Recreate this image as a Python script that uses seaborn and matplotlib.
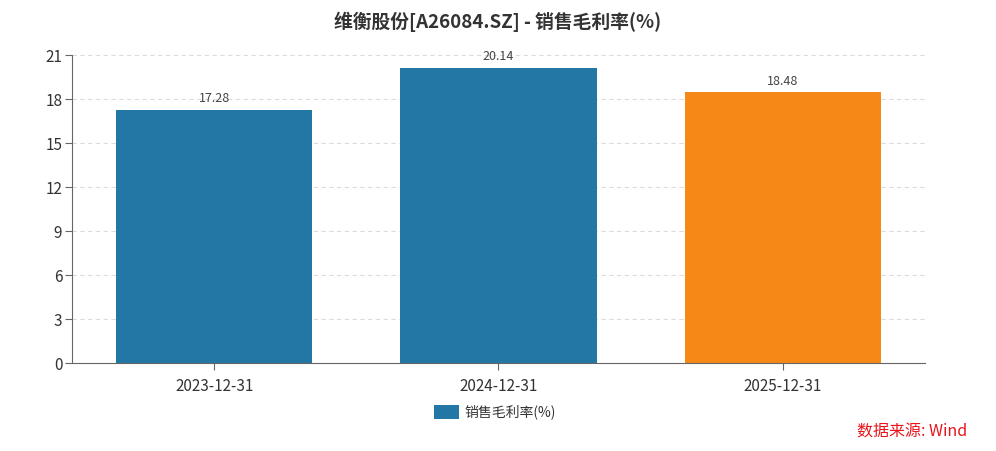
import pandas as pd
import matplotlib
matplotlib.use("Agg")
import matplotlib.pyplot as plt
import seaborn as sns
from matplotlib.patches import Patch

# data

periods = ["2023-12-31", "2024-12-31", "2025-12-31"]
margin = [17.28, 20.14, 18.48]
kind = ["actual", "actual", "forecast"]
yticks = [0, 3, 6, 9, 12, 15, 18, 21]

df = pd.DataFrame({"period": periods, "margin": margin, "kind": kind})

sns.set_style("white")
plt.rcParams["font.family"] = ["Noto Sans CJK SC", "DejaVu Sans"]

fig = plt.figure(figsize=(9.96, 4.51), dpi=100)
ax = fig.add_axes([0.0723, 0.1951, 0.8564, 0.6829])

palette = {"actual": "#2277a4", "forecast": "#f68818"}
sns.barplot(data=df, x="period", y="margin", hue="kind", palette=palette,
            dodge=False, width=0.69, ax=ax, legend=False, saturation=1,
            linewidth=0)

ax.set_xlim(-0.5, 2.5)
ax.set_ylim(0, 21)
ax.set_yticks(yticks)
ax.set_xlabel("")
ax.set_ylabel("")
ax.grid(axis="y", linestyle=(0, (4, 3)), color="#dcdcdc", linewidth=0.8)
ax.set_axisbelow(True)

for s in ["top", "right"]:
    ax.spines[s].set_visible(False)
for s in ["left", "bottom"]:
    ax.spines[s].set_color("#666666")
    ax.spines[s].set_linewidth(0.8)
ax.tick_params(axis="both", direction="out", length=5, width=0.8,
               color="#666666", labelcolor="#333333", labelsize=11,
               left=True, bottom=True)
ax.tick_params(axis="y", pad=2)
ax.tick_params(axis="x", pad=6)

for i, v in enumerate(margin):
    ax.text(i, v + 0.3, f"{v:.2f}", ha="center", va="bottom",
            fontsize=9, color="#444444")

fig.text(0.5, 0.951, "维衡股份[A26084.SZ] - 销售毛利率(%)", ha="center",
         va="center", fontsize=13.5, fontweight="bold", color="#333333")

handle = Patch(facecolor="#2277a4", edgecolor="none")
fig.legend([handle], ["销售毛利率(%)"], loc="center", bbox_to_anchor=(0.497, 0.086),
           frameon=False, fontsize=10, handlelength=1.8, handleheight=1.1,
           handletextpad=0.4, labelcolor="#333333")

fig.text(0.971, 0.042, "数据来源: Wind", ha="right", va="center",
         fontsize=11.5, color="#e8141c")

fig.savefig("out.png", dpi=100)
